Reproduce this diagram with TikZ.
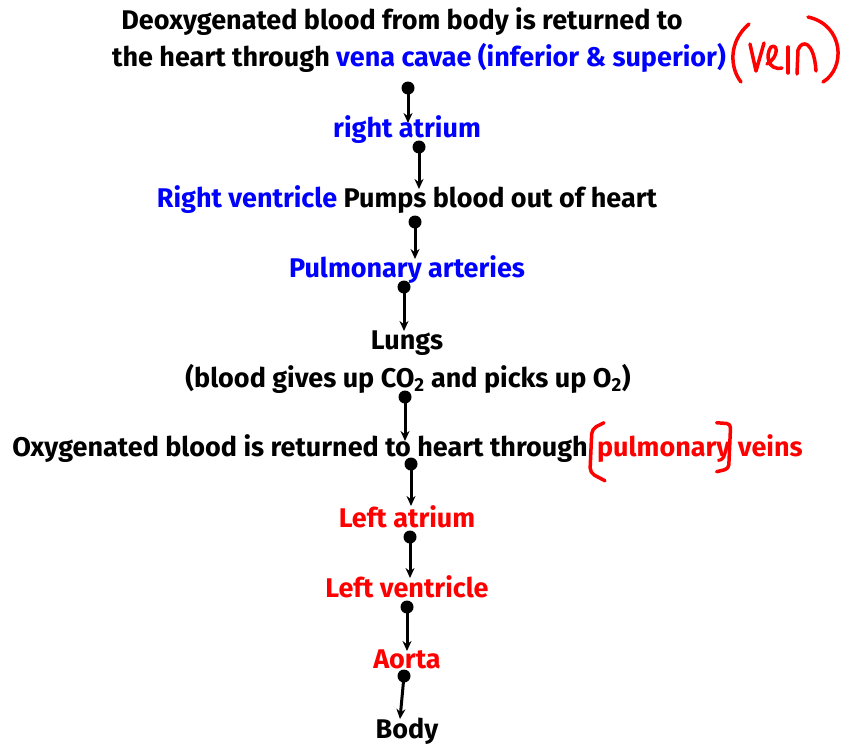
\documentclass[tikz,border=0pt]{standalone}
\usepackage{fontspec}
\setmainfont{Fira Sans}
\usetikzlibrary{positioning,arrows.meta}
\definecolor{vblue}{RGB}{0,0,255}
\definecolor{hred}{RGB}{255,0,0}

\begin{document}
\begin{tikzpicture}[x=1pt, y=-1pt,
  every node/.style={font=\fontsize{27}{32}\selectfont\bfseries, inner sep=0pt},
  txt/.style={anchor=base},
  vtxt/.style={anchor=base, text=vblue},
  atxt/.style={anchor=base, text=hred},
  dot/.style={circle, fill=black, minimum size=13pt, inner sep=0pt},
  flow/.style={line width=3pt, -{Stealth[length=10pt,width=9pt]}},
  pen/.style={draw=hred, line width=3.5pt, line cap=round, line join=round}]
\useasboundingbox (0,0) rectangle (854,747);

% Return of blood to the right side
\node[txt] (deoxy) at (402,29) {Deoxygenated blood from body is returned to};
\node[txt] (cavae) at (419,66) {the heart through \textcolor{vblue}{vena cavae (inferior \& superior)}};
\node[vtxt] (ratrium) at (407,137) {right atrium};
\node[txt] (rvent) at (407,207) {\textcolor{vblue}{Right ventricle} Pumps blood out of heart};
\node[vtxt] (partery) at (407,277) {Pulmonary arteries};
\node[txt] (lungs) at (407,349) {Lungs};
\node[txt] (gas) at (408,387) {(blood gives up CO\textsubscript{2} and picks up O\textsubscript{2})};

% Return of blood to the left side
\node[txt] (oxy) at (300,456) {Oxygenated blood is returned to heart through};
\node[atxt, right=9pt of oxy.base east, anchor=base west] (pulm) {pulmonary};
\node[atxt, right=7pt of pulm.base east, anchor=base west] (veins) {veins};
\node[atxt] (latrium) at (407,527) {Left atrium};
\node[atxt] (lvent) at (407,597) {Left ventricle};
\node[atxt] (aorta) at (407,668) {Aorta};
\node[txt] (body) at (407,738) {Body};

% Dots and arrow ends
\node[dot] (d1) at (408,88) {};  \coordinate (t1) at (408,123);
\node[dot] (d2) at (419,147) {}; \coordinate (t2) at (419,189);
\node[dot] (d3) at (415,222) {}; \coordinate (t3) at (415,259);
\node[dot] (d4) at (404,287) {}; \coordinate (t4) at (404,331);
\node[dot] (d5) at (405,397) {}; \coordinate (t5) at (405,441);
\node[dot] (d6) at (411,464) {}; \coordinate (t6) at (411,506);
\node[dot] (d7) at (410,537) {}; \coordinate (t7) at (410,578);
\node[dot] (d8) at (407,607) {}; \coordinate (t8) at (407,651);
\node[dot] (d9) at (404,676) {}; \coordinate (t9) at (400,719);

% Flow arrows
\foreach \i in {1,...,9}
  \draw[flow] (d\i.center) -- (t\i);

% Handwritten note (vein)
\draw[pen] (749,24) .. controls (728,42) and (730,68) .. (741,82);
\draw[pen] (750,44) -- (756,71) -- (764,43);
\draw[pen] (767,64) .. controls (779,57) and (778,43) .. (771,47) .. controls (765,55) and (768,71) .. (782,68);
\draw[pen] (788,47) -- (788,73);
\draw[pen] (797,74) -- (798,50) .. controls (802,39) and (814,41) .. (816,71);
\draw[pen] (808,17) .. controls (844,25) and (846,68) .. (823,82);

% Brackets round pulmonary
\draw[pen, rounded corners=5pt] ([shift={(7,-26)}]pulm.west) -- ([shift={(-5,-20)}]pulm.west)
  -- ([shift={(-7,24)}]pulm.west) -- ([shift={(8,32)}]pulm.west);
\draw[pen, rounded corners=4pt] ([shift={(-14,-26)}]pulm.east) -- ([shift={(0,-25)}]pulm.east)
  -- ([shift={(-2,20)}]pulm.east) -- ([shift={(-14,23)}]pulm.east);
\end{tikzpicture}
\end{document}
